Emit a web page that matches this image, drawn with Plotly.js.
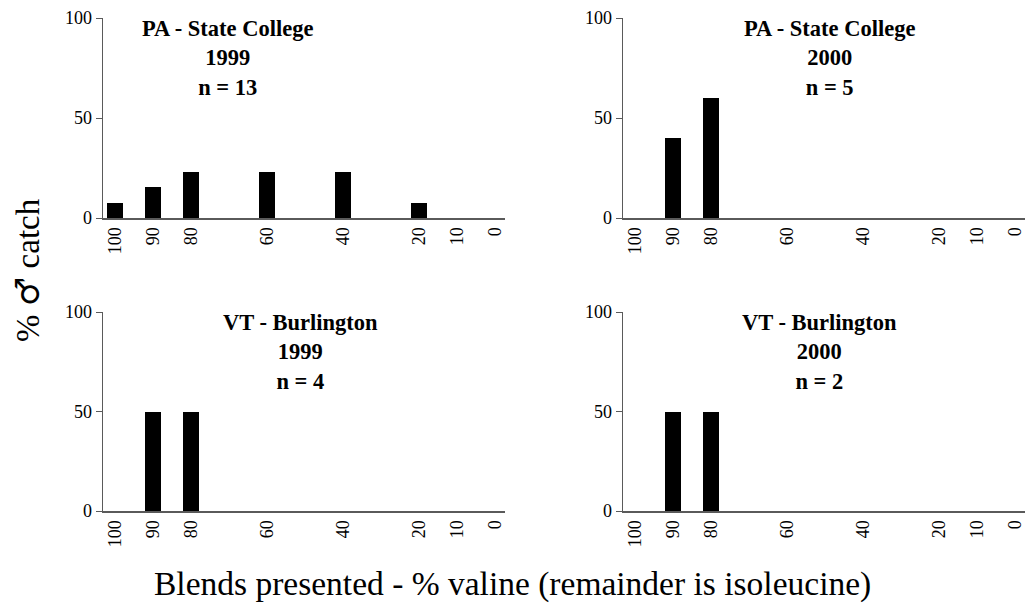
<!DOCTYPE html>
<html>
<head>
<meta charset="utf-8">
<script src="https://cdn.plot.ly/plotly-3.0.1.min.js"></script>
<style>html,body{margin:0;padding:0;background:#fff;} #chart{width:1026px;height:608px;}</style>
</head>
<body>
<div id="chart"></div>
<script>
// Blend categories (% valine)
const blends = [100, 90, 80, 60, 40, 20, 10, 0];
const blendLabels = ["100", "90", "80", "60", "40", "20", "10", "0"];
// % male catch per blend
const paStateCollege1999 = [7.7, 15.4, 23.1, 23.1, 23.1, 7.7, 0, 0];
const paStateCollege2000 = [0, 40, 60, 0, 0, 0, 0, 0];
const vtBurlington1999 = [0, 50, 50, 0, 0, 0, 0, 0];
const vtBurlington2000 = [0, 50, 50, 0, 0, 0, 0, 0];
const panelTitles = [
  "PA - State College<br>1999<br>n = 13",
  "PA - State College<br>2000<br>n = 5",
  "VT - Burlington<br>1999<br>n = 4",
  "VT - Burlington<br>2000<br>n = 2"
];
const yTickVals = [0, 50, 100];
const yTickText = ["0", "50", "100"];

const series = [paStateCollege1999, paStateCollege2000, vtBurlington1999, vtBurlington2000];
const axisIds = [["x","y"],["x2","y2"],["x3","y3"],["x4","y4"]];

const FONT = "Liberation Serif";
const traces = series.map((vals, i) => ({
  type: "bar",
  x: blends,
  y: vals,
  width: 4.2,
  xaxis: axisIds[i][0],
  yaxis: axisIds[i][1],
  marker: {color: "#000", line: {width: 0}},
  showlegend: false,
  hoverinfo: "x+y"
}));

const W = 1026, H = 608;
const xDomL = [103/W, 505/W];
const xDomR = [623/W, 1025/W];
const yDomT = [1 - 218/H, 1 - 18/H];
const yDomB = [1 - 511/H, 1 - 312/H];

function xAxis(domain, anchor) {
  return {
    domain: domain, anchor: anchor,
    range: [103.07, -2.5],
    tickmode: "array", tickvals: blends, ticktext: blendLabels,
    tickangle: -90,
    ticks: "", showgrid: false, zeroline: false,
    showline: true, linecolor: "#5a5a5a", linewidth: 2,
    tickfont: {family: FONT, size: 18, color: "#000"},
    fixedrange: true
  };
}
function yAxis(domain, anchor) {
  return {
    domain: domain, anchor: anchor,
    range: [0, 100],
    tickmode: "array", tickvals: yTickVals, ticktext: yTickText,
    ticks: "outside", ticklen: 6, tickwidth: 1, tickcolor: "#5a5a5a",
    showgrid: false, zeroline: false,
    showline: true, linecolor: "#5a5a5a", linewidth: 1.5,
    tickfont: {family: FONT, size: 18, color: "#000"},
    fixedrange: true
  };
}

const titlePos = [[227, 58], [829, 58], [300, 352], [819, 352]];

const annotations = panelTitles.map((t, i) => ({
  text: "<b>" + t + "</b>",
  xref: "paper", yref: "paper",
  x: titlePos[i][0] / W, y: 1 - titlePos[i][1] / H,
  xanchor: "center", yanchor: "middle",
  showarrow: false, align: "center",
  font: {family: FONT, size: 22.5, color: "#000"}
}));
annotations.push({
  text: "Blends presented - % valine (remainder is isoleucine)",
  xref: "paper", yref: "paper", x: 512 / W, y: 1 - 584 / H,
  xanchor: "center", yanchor: "middle", showarrow: false,
  font: {family: FONT, size: 33.5, color: "#000"}
});
annotations.push({
  text: "% <span style=\"font-family:'DejaVu Serif'\">\u2642</span> catch",
  xref: "paper", yref: "paper", x: 27 / W, y: 1 - 270 / H,
  xanchor: "center", yanchor: "middle", showarrow: false, textangle: -90,
  font: {family: FONT, size: 33, color: "#000"}
});

const layout = {
  width: W, height: H,
  margin: {l: 0, r: 0, t: 0, b: 0},
  paper_bgcolor: "#fff", plot_bgcolor: "#fff",
  bargap: 0,
  xaxis: xAxis(xDomL, "y"), yaxis: yAxis(yDomT, "x"),
  xaxis2: xAxis(xDomR, "y2"), yaxis2: yAxis(yDomT, "x2"),
  xaxis3: xAxis(xDomL, "y3"), yaxis3: yAxis(yDomB, "x3"),
  xaxis4: xAxis(xDomR, "y4"), yaxis4: yAxis(yDomB, "x4"),
  annotations: annotations
};

Plotly.newPlot("chart", traces, layout, {displayModeBar: false, staticPlot: true});
</script>
</body>
</html>
